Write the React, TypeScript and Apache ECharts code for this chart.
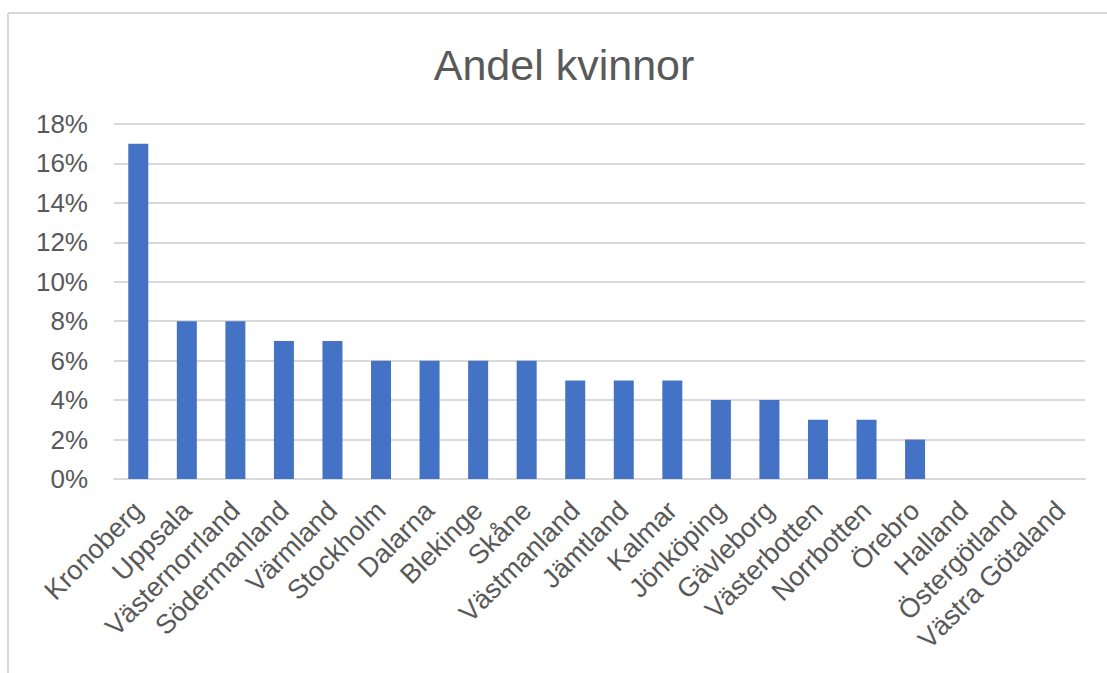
import React, { useEffect, useRef } from "react";
import * as echarts from "echarts";

const categories = [
  "Kronoberg", "Uppsala", "Västernorrland", "Södermanland", "Värmland",
  "Stockholm", "Dalarna", "Blekinge", "Skåne", "Västmanland",
  "Jämtland", "Kalmar", "Jönköping", "Gävleborg", "Västerbotten",
  "Norrbotten", "Örebro", "Halland", "Östergötland", "Västra Götaland",
];
const andelKvinnor = [17, 8, 8, 7, 7, 6, 6, 6, 6, 5, 5, 5, 4, 4, 3, 3, 2, 0, 0, 0];
const yMin = 0;
const yMax = 18;
const yStep = 2;

const FONT = "'Liberation Sans', Arial, sans-serif";
const TEXT = "#595959";
const GRID = "#d9d9d9";

export default function App() {
  const ref = useRef<HTMLDivElement>(null);
  useEffect(() => {
    if (!ref.current) return;
    const chart = echarts.init(ref.current, undefined, { renderer: "svg" });
    chart.setOption({
      animation: false,
      backgroundColor: "#ffffff",
      title: {
        text: "Andel kvinnor",
        left: 559,
        top: 38,
        textAlign: "center",
        textStyle: { fontFamily: FONT, fontSize: 43, fontWeight: "normal", color: TEXT },
      },
      graphic: [
        { type: "line", shape: { x1: 8, y1: 13, x2: 1107, y2: 13 }, style: { stroke: GRID, lineWidth: 2 } },
        { type: "line", shape: { x1: 8, y1: 13, x2: 8, y2: 673 }, style: { stroke: GRID, lineWidth: 2 } },
      ],
      grid: { left: 114, right: 22, top: 124, bottom: 194, containLabel: false },
      xAxis: {
        type: "category",
        data: categories,
        axisLine: { show: true, lineStyle: { color: GRID, width: 2 } },
        axisTick: { show: false },
        axisLabel: {
          interval: 0,
          rotate: 45,
          margin: 27,
          fontFamily: FONT,
          fontSize: 27,
          color: TEXT,
        },
      },
      yAxis: {
        type: "value",
        min: yMin,
        max: yMax,
        interval: yStep,
        axisLine: { show: false },
        axisTick: { show: false },
        splitLine: { lineStyle: { color: GRID, width: 2 } },
        axisLabel: {
          formatter: "{value}%",
          margin: 26,
          fontFamily: FONT,
          fontSize: 26,
          color: TEXT,
        },
      },
      series: [
        {
          type: "bar",
          data: andelKvinnor,
          barWidth: 20,
          itemStyle: { color: "#4472c4" },
        },
      ],
    });
    return () => chart.dispose();
  }, []);
  return (
    <div
      ref={ref}
      style={{ position: "absolute", left: 0, top: 0, width: 1107, height: 673 }}
    />
  );
}
